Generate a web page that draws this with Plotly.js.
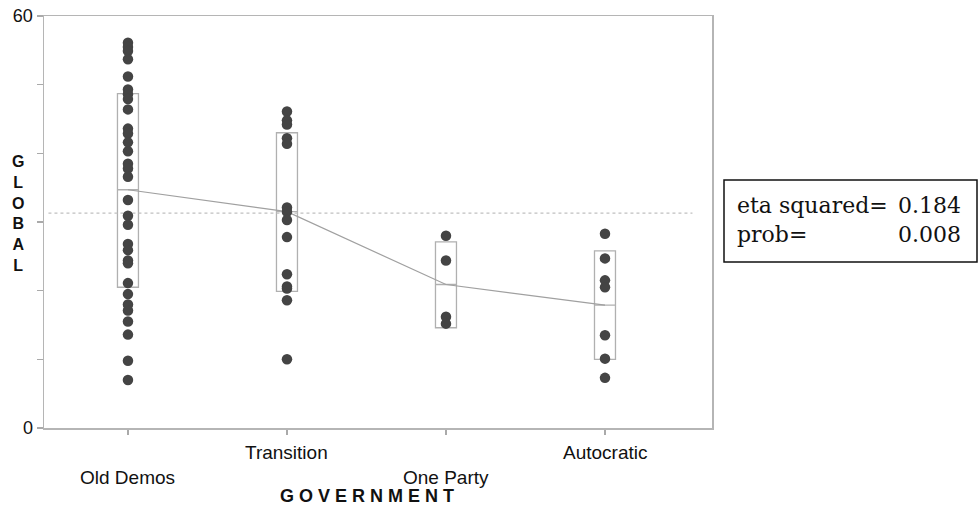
<!DOCTYPE html>
<html>
<head>
<meta charset="utf-8">
<script src="https://cdn.plot.ly/plotly-3.0.1.min.js"></script>
<style>html,body{margin:0;padding:0;background:#fff;}#chart{width:978px;height:506px;}</style>
</head>
<body>
<div id="chart"></div>
<script>
// ---- data ----
const categories = ["Old Demos", "Transition", "One Party", "Autocratic"];
const oldDemos = [56.1, 55.5, 54.9, 53.7, 51.2, 49.3, 48.6, 47.9, 46.4, 43.6, 42.9, 41.6, 40.3, 38.5, 37.8, 36.6, 33.2, 30.9, 29.6, 26.8, 25.9, 24.4, 24.0, 21.1, 19.5, 18.0, 17.1, 15.5, 13.6, 9.8, 7.0];
const transition = [46.1, 44.8, 44.2, 42.2, 41.4, 32.1, 31.5, 30.3, 27.8, 22.4, 20.6, 20.3, 18.6, 10.0];
const oneParty = [28.0, 24.4, 16.2, 15.2];
const autocratic = [28.3, 24.7, 21.5, 20.5, 13.5, 10.1, 7.3];
const groupMeans = [34.7, 31.5, 20.9, 17.9];
const boxLow = [20.5, 19.9, 14.6, 10.0];
const boxHigh = [48.7, 43.0, 27.1, 25.8];
const grandMean = 31.3;
const yTickVals = [0, 10, 20, 30, 40, 50, 60];
const yTickText = ["0", "", "", "", "", "", "60"];
const statLabels = ["eta squared=", "prob="];
const statValues = ["0.184", "0.008"];

const groups = [oldDemos, transition, oneParty, autocratic];
const idx = categories.map((c, i) => i);

const traces = [];
// mean +/- spread boxes
traces.push({
  type: "box",
  x: idx,
  q1: boxLow, median: groupMeans, q3: boxHigh,
  lowerfence: boxLow, upperfence: boxHigh,
  width: 0.132,
  line: {color: "#b0b0b0", width: 1.3},
  fillcolor: "rgba(0,0,0,0)",
  boxpoints: false,
  hoverinfo: "skip",
  showlegend: false
});
// grand mean dotted line
traces.push({
  type: "scatter", mode: "lines",
  x: [-0.5, 3.55], y: [grandMean, grandMean],
  line: {color: "#c0c0c0", width: 1.2, dash: "dot"},
  hoverinfo: "skip", showlegend: false
});
// group means connecting line
traces.push({
  type: "scatter", mode: "lines",
  x: idx, y: groupMeans,
  line: {color: "#a0a0a0", width: 1.2},
  hoverinfo: "skip", showlegend: false
});
// points
groups.forEach((g, i) => {
  traces.push({
    type: "scatter", mode: "markers",
    x: g.map(() => i), y: g,
    marker: {color: "#444444", size: 10.5, line: {width: 0}},
    showlegend: false
  });
});

const W = 978, H = 506, mL = 44, mR = 266, mT = 16, mB = 78;
const pw = W - mL - mR, ph = H - mT - mB;
const toPx = (px) => (px - mL) / pw;
const toPy = (py) => (H - mB - py) / ph;

const annotations = [];
categories.forEach((c, i) => {
  annotations.push({
    x: i, xref: "x", y: 0, yref: "paper",
    text: c, showarrow: false,
    yanchor: "middle", xanchor: "center",
    yshift: (i % 2 === 0) ? -49 : -24,
    font: {family: "Liberation Sans, Arial", size: 19, color: "#111"}
  });
});
annotations.push({
  x: toPx(367), xref: "paper", y: 0, yref: "paper",
  text: "G O V E R N M E N T", showarrow: false,
  yanchor: "middle", xanchor: "center", yshift: -68,
  font: {family: "Liberation Sans, Arial", size: 18, color: "#111", weight: "bold"}
});
annotations.push({
  x: 0, xref: "paper", y: 0.52, yref: "paper",
  text: "GLOBAL".split("").join("<br>"), showarrow: false,
  xanchor: "center", yanchor: "middle", xshift: -26,
  font: {family: "Liberation Sans, Arial", size: 16, color: "#111", weight: "bold"}
});
annotations.push({
  x: toPx(735), xref: "paper", y: toPy(220), yref: "paper",
  text: statLabels.join("<br>"), showarrow: false,
  xanchor: "left", yanchor: "middle", align: "left",
  font: {family: "DejaVu Serif", size: 22, color: "#111"}
});
annotations.push({
  x: toPx(963), xref: "paper", y: toPy(220), yref: "paper",
  text: statValues.join("<br>"), showarrow: false,
  xanchor: "right", yanchor: "middle", align: "right",
  font: {family: "DejaVu Serif", size: 22, color: "#111"}
});

const layout = {
  width: W, height: H,
  margin: {l: mL, r: mR, t: mT, b: mB},
  paper_bgcolor: "#fff", plot_bgcolor: "#fff",
  showlegend: false,
  xaxis: {
    range: [-0.528, 3.673],
    tickvals: idx, ticktext: categories, showticklabels: false,
    ticks: "outside", ticklen: 5, tickcolor: "#aaa", tickwidth: 1.2,
    showgrid: false, zeroline: false,
    showline: true, linecolor: "#b5b5b5", linewidth: 1.5, mirror: true
  },
  yaxis: {
    range: [0, 60],
    tickvals: yTickVals, ticktext: yTickText,
    ticks: "outside", ticklen: 6, tickcolor: "#aaa", tickwidth: 1.2,
    tickfont: {family: "Liberation Sans, Arial", size: 18, color: "#111"},
    showgrid: false, zeroline: false,
    showline: true, linecolor: "#b5b5b5", linewidth: 1.5, mirror: true
  },
  shapes: [{
    type: "rect", xref: "paper", yref: "paper",
    x0: toPx(724), x1: toPx(977), y0: toPy(262), y1: toPy(180),
    line: {color: "#111", width: 1.5}, fillcolor: "rgba(0,0,0,0)"
  }],
  annotations: annotations
};

Plotly.newPlot("chart", traces, layout, {displayModeBar: false, staticPlot: true});
</script>
</body>
</html>
